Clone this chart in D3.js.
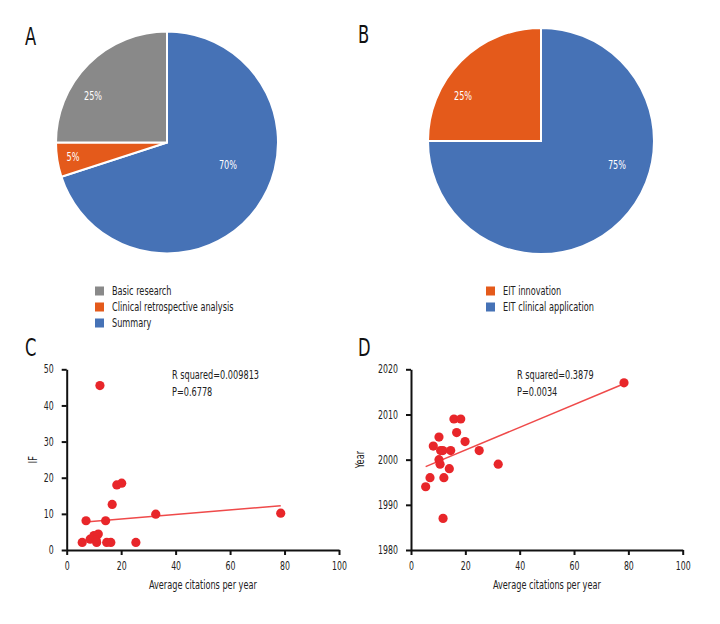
<!DOCTYPE html>
<html><head><meta charset="utf-8">
<script src="https://cdn.jsdelivr.net/npm/d3@7"></script>
<style>
body{margin:0;background:#fff;}
svg{display:block;font-family:"DejaVu Sans",sans-serif;}
</style></head>
<body><svg id="c" width="720" height="624"></svg>
<script>
// ---- data ----
const pieACategories = ["Summary","Clinical retrospective analysis","Basic research"];
const pieAValues = [70,5,25];
const pieALegend = ["Basic research","Clinical retrospective analysis","Summary"];
const pieBCategories = ["EIT clinical application","EIT innovation"];
const pieBValues = [75,25];
const pieBLegend = ["EIT innovation","EIT clinical application"];

const citationsC = [12.2,18.4,20.2,16.7,7.1,14.3,32.7,78.6,5.7,8.6,10.0,11.6,10.8,11.0,14.7,16.2,25.4];
const ifC =        [45.5,18.0,18.5,12.6,8.1,8.1,9.9,10.2,2.1,3.0,4.0,4.4,2.8,2.1,2.1,2.1,2.1];
const fitC = [[5.75,7.66],[78.6,12.27]];
const citationsD = [78.4,10.3,16.8,8.2,19.9,10.9,11.7,14.6,25.1,10.3,10.7,14.1,7.0,12.1,5.4,32.1,15.8,18.3,11.8];
const yearD =      [2017,2005,2006,2003,2004,2002,2002,2002,2002,2000,1999,1998,1996,1996,1994,1999,2009,2009,1987];
const fitD = [[5.4,1998.45],[78.4,2016.8]];
const xTicks = [0,20,40,60,80,100];
const yTicksC = [0,10,20,30,40,50];
const yTicksD = [1980,1990,2000,2010,2020];

// ---- styles / layout ----
const colA = {"Summary":"#4672b6","Clinical retrospective analysis":"#e45a1b","Basic research":"#898989"};
const colB = {"EIT clinical application":"#4672b6","EIT innovation":"#e45a1b"};
const labelOffA = {"Summary":[61,22],"Clinical retrospective analysis":[-94,14],"Basic research":[-74,-47]};
const labelOffB = {"EIT clinical application":[76,24],"EIT innovation":[-78,-45]};
const svg = d3.select("#c");

function drawPie(cx,cy,r,cats,vals,col,offs,legend,lx,ly){
  const g = svg.append("g").attr("transform",`translate(${cx},${cy})`);
  const data = cats.map((c,i)=>({c,v:vals[i]}));
  const arcs = d3.pie().sort(null).value(d=>d.v)(data);
  const arc = d3.arc().innerRadius(0).outerRadius(r);
  g.selectAll("path").data(arcs).join("path")
    .attr("d",arc).attr("fill",d=>col[d.data.c])
    .attr("stroke","#fff").attr("stroke-width",2).attr("stroke-linejoin","miter");
  g.selectAll("text").data(arcs).join("text")
    .attr("x",d=>offs[d.data.c][0]).attr("y",d=>offs[d.data.c][1])
    .attr("text-anchor","middle").attr("dominant-baseline","central")
    .attr("fill","#fff").attr("font-size",12)
    .text(d=>d.data.v+"%");
  const lg = svg.append("g").attr("transform",`translate(${lx},${ly})`);
  legend.forEach((name,i)=>{
    lg.append("rect").attr("x",0).attr("y",i*16-4.5).attr("width",9).attr("height",9).attr("fill",col[name]);
    lg.append("text").attr("x",17).attr("y",i*16).attr("dominant-baseline","central")
      .attr("font-size",12).attr("fill","#222").text(name);
  });
}
drawPie(167,142.5,111,pieACategories,pieAValues,colA,labelOffA,pieALegend,95,291);
drawPie(541,141,113,pieBCategories,pieBValues,colB,labelOffB,pieBLegend,486,291);

function drawScatter(x0,x1,y0,y1,yDomain,yTicks,xs,ys,fit,ylab,ylabX,ann,annX){
  const x = d3.scaleLinear().domain([0,100]).range([x0,x1]);
  const y = d3.scaleLinear().domain(yDomain).range([y0,y1]);
  const g = svg.append("g");
  const xa = g.append("g").attr("transform",`translate(0,${y0})`)
    .call(d3.axisBottom(x).tickValues(xTicks).tickFormat(d3.format("d")).tickSize(5).tickSizeOuter(0).tickPadding(7));
  const ya = g.append("g").attr("transform",`translate(${x0},0)`)
    .call(d3.axisLeft(y).tickValues(yTicks).tickFormat(d3.format("d")).tickSize(5).tickSizeOuter(0).tickPadding(8));
  [xa,ya].forEach(a=>{
    a.select(".domain").attr("stroke","#111").attr("stroke-width",2);
    a.selectAll(".tick line").attr("stroke","#111").attr("stroke-width",2);
    a.selectAll(".tick text").attr("font-size",11.5).attr("fill","#222")
      .attr("font-family",'"DejaVu Sans",sans-serif');
  });
  g.append("path").attr("d",d3.line().x(d=>x(d[0])).y(d=>y(d[1]))(fit))
    .attr("stroke","#ef4a4a").attr("stroke-width",1.5).attr("fill","none");
  g.selectAll("circle").data(xs.map((v,i)=>[v,ys[i]])).join("circle")
    .attr("cx",d=>x(d[0])).attr("cy",d=>y(d[1])).attr("r",4.6).attr("fill","#e8262a");
  g.append("text").attr("x",(x0+x1)/2).attr("y",y0+39).attr("text-anchor","middle")
    .attr("font-size",12).attr("fill","#222").text("Average citations per year");
  g.append("text").attr("transform",`translate(${ylabX},${(y0+y1)/2}) rotate(-90)`)
    .attr("text-anchor","middle").attr("font-size",12).attr("fill","#222").text(ylab);
  ann.forEach((t,i)=>g.append("text").attr("x",annX).attr("y",y1+10+i*17)
    .attr("font-size",12).attr("fill","#222").text(t));
}
drawScatter(66.7,339,550,369.3,[0,50],yTicksC,citationsC,ifC,fitC,"IF",37,
  ["R squared=0.009813","P=0.6778"],172);
drawScatter(411,682.7,550,369.3,[1980,2020],yTicksD,citationsD,yearD,fitD,"Year",364,
  ["R squared=0.3879","P=0.0034"],517);

// panel letters
[["A",25,45],["B",358,43],["C",25,356],["D",358,356]].forEach(([t,x,y])=>
  svg.append("text").attr("x",x).attr("y",y).attr("font-size",24).attr("fill","#111").text(t));

// condense all text to mimic the narrow typeface of the original
svg.selectAll("text").each(function(){
  const len = this.getComputedTextLength();
  if(len>0) d3.select(this).attr("textLength",len*0.68).attr("lengthAdjust","spacingAndGlyphs");
});
</script></body></html>
